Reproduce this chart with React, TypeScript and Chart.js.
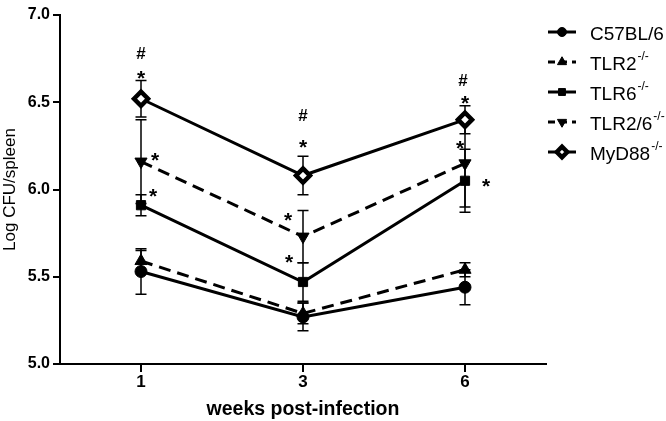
import React, { useEffect, useRef } from "react";
import { Chart, registerables } from "chart.js";
import { drawPoint } from "chart.js/helpers";

Chart.register(...registerables);

const weeks = ["1", "3", "6"];
const seriesNames = ["C57BL/6", "TLR2", "TLR6", "TLR2/6", "MyD88"];
const seriesSup = ["", "-/-", "-/-", "-/-", "-/-"];
const c57Values = [5.53, 5.27, 5.44];
const c57Err = [0.13, 0.08, 0.1];
const tlr2Values = [5.59, 5.29, 5.54];
const tlr2Err = [0.06, 0.06, 0.04];
const tlr6Values = [5.91, 5.47, 6.05];
const tlr6Err = [0.06, 0.11, 0.18];
const tlr26Values = [6.16, 5.73, 6.15];
const tlr26Err = [0.24, 0.15, 0.25];
const myd88Values = [6.52, 6.08, 6.4];
const myd88Err = [0.105, 0.11, 0.08];
const yTicks = [5.0, 5.5, 6.0, 6.5, 7.0];

// significance marks: [category index, series index, text, dx, dy]
const marks: [number, number, string, number, number][] = [
  [0, 4, "#", 0, -46],
  [0, 4, "*", 0, -24],
  [0, 3, "*", 14, -5],
  [0, 2, "*", 12, -12],
  [1, 4, "#", 0, -61],
  [1, 4, "*", 0, -32],
  [1, 3, "*", -15, -20],
  [1, 2, "*", -14, -23],
  [2, 4, "#", -2, -40],
  [2, 4, "*", 0, -20],
  [2, 3, "*", -5, -18],
  [2, 2, "*", 21, 2],
];

const FONT = "'Liberation Sans', Arial, Helvetica, sans-serif";

export default function App() {
  const ref = useRef<HTMLCanvasElement | null>(null);

  useEffect(() => {
    if (!ref.current) return;
    const errs = [c57Err, tlr2Err, tlr6Err, tlr26Err, myd88Err];

    const errorBars = {
      id: "errorBars",
      beforeDatasetsDraw(chart: any) {
        const ctx = chart.ctx;
        const ys = chart.scales.y;
        ctx.save();
        ctx.strokeStyle = "#000";
        ctx.lineWidth = 1.5;
        chart.data.datasets.forEach((ds: any, di: number) => {
          const meta = chart.getDatasetMeta(di);
          meta.data.forEach((pt: any, i: number) => {
            const v = ds.data[i];
            const e = errs[di][i];
            const top = ys.getPixelForValue(v + e);
            const bot = ys.getPixelForValue(v - e);
            const x = pt.x;
            ctx.beginPath();
            ctx.moveTo(x, top);
            ctx.lineTo(x, bot);
            ctx.moveTo(x - 5.5, top);
            ctx.lineTo(x + 5.5, top);
            ctx.moveTo(x - 5.5, bot);
            ctx.lineTo(x + 5.5, bot);
            ctx.stroke();
          });
        });
        ctx.restore();
      },
    };

    const drawCentered = (ctx: any, text: string, cx: number, cy: number) => {
      const m = ctx.measureText(text);
      const asc = m.actualBoundingBoxAscent;
      const desc = m.actualBoundingBoxDescent;
      ctx.fillText(text, cx, cy + (asc - desc) / 2);
    };

    const annotations = {
      id: "annotations",
      afterDatasetsDraw(chart: any) {
        const ctx = chart.ctx;
        ctx.save();
        ctx.fillStyle = "#000";
        ctx.textAlign = "center";
        ctx.textBaseline = "alphabetic";
        marks.forEach(([ci, si, text, dx, dy]) => {
          const pt = chart.getDatasetMeta(si).data[ci];
          ctx.font = text === "#" ? `bold 17px ${FONT}` : `bold 21px ${FONT}`;
          drawCentered(ctx, text, pt.x + dx, pt.y + dy);
        });
        ctx.restore();
      },
    };

    const customLegend = {
      id: "customLegend",
      afterDraw(chart: any) {
        const ctx = chart.ctx;
        ctx.save();
        chart.data.datasets.forEach((ds: any, di: number) => {
          const cy = 32 + di * 30;
          ctx.strokeStyle = "#000";
          ctx.lineWidth = 3;
          ctx.setLineDash(ds.borderDash && ds.borderDash.length ? [7, 5] : []);
          ctx.beginPath();
          ctx.moveTo(548, cy);
          ctx.lineTo(576, cy);
          ctx.stroke();
          ctx.setLineDash([]);
          ctx.fillStyle = ds.pointBackgroundColor;
          ctx.strokeStyle = "#000";
          ctx.lineWidth = ds.pointBorderWidth;
          drawPoint(ctx, {
            pointStyle: ds.pointStyle,
            radius: ds.pointRadius * 0.75,
            rotation: ds.pointRotation || 0,
            borderWidth: ds.pointBorderWidth,
          }, 562, cy);
          ctx.fillStyle = "#000";
          ctx.textAlign = "left";
          ctx.textBaseline = "middle";
          ctx.font = `19px ${FONT}`;
          const name = seriesNames[di];
          ctx.fillText(name, 590, cy + 3);
          const w = ctx.measureText(name).width;
          if (seriesSup[di]) {
            ctx.font = `12px ${FONT}`;
            ctx.fillText(seriesSup[di], 590 + w + 1, cy - 5);
          }
        });
        ctx.restore();
      },
    };

    const mk = (
      label: string,
      data: number[],
      style: string,
      dashed: boolean,
      radius: number,
      rotation = 0,
      bg = "#000",
      bw = 1
    ) => ({
      label,
      data,
      borderColor: "#000",
      borderWidth: 3,
      borderDash: dashed ? [12, 7] : [],
      pointStyle: style,
      pointRadius: radius,
      pointRotation: rotation,
      pointBackgroundColor: bg,
      pointBorderColor: "#000",
      pointBorderWidth: bw,
      tension: 0,
      fill: false,
    });

    const chart = new Chart(ref.current, {
      type: "line",
      data: {
        labels: weeks,
        datasets: [
          mk("C57BL/6", c57Values, "circle", false, 6),
          mk("TLR2-/-", tlr2Values, "triangle", true, 7),
          mk("TLR6-/-", tlr6Values, "rect", false, 6.5),
          mk("TLR2/6-/-", tlr26Values, "triangle", true, 7, 180),
          mk("MyD88-/-", myd88Values, "rectRot", false, 7, 0, "#fff", 4.5),
        ] as any,
      },
      options: {
        responsive: false,
        animation: false,
        events: [],
        layout: { padding: { top: 15, right: 120, left: 0, bottom: 0 } },
        plugins: {
          legend: { display: false },
          tooltip: { enabled: false },
        },
        scales: {
          x: {
            type: "category",
            offset: true,
            grid: {
              display: true,
              drawOnChartArea: false,
              drawTicks: true,
              tickLength: 8,
              color: "#000",
              lineWidth: 2,
            },
            border: { display: true, color: "#000", width: 2 },
            ticks: {
              color: "#000",
              font: { family: FONT, size: 17, weight: "bold" },
              padding: 0,
            },
            title: {
              display: true,
              text: "weeks post-infection",
              color: "#000",
              font: { family: FONT, size: 19.5, weight: "bold" },
              padding: { top: 0, bottom: 0 },
            },
            afterFit(scale: any) {
              scale.height = 57;
            },
          },
          y: {
            min: 5,
            max: 7,
            afterBuildTicks(scale: any) {
              scale.ticks = yTicks.map((v) => ({ value: v }));
            },
            grid: {
              display: true,
              drawOnChartArea: false,
              drawTicks: true,
              tickLength: 7,
              color: "#000",
              lineWidth: 2,
            },
            border: { display: true, color: "#000", width: 2 },
            ticks: {
              color: "#000",
              font: { family: FONT, size: 16, weight: "bold" },
              padding: 3,
              callback: (v: any) => Number(v).toFixed(1),
            },
            title: {
              display: true,
              text: "Log CFU/spleen",
              color: "#000",
              font: { family: FONT, size: 17 },
              padding: { top: 0, bottom: 0 },
            },
            afterFit(scale: any) {
              scale.width = 60;
            },
          },
        },
      } as any,
      plugins: [errorBars, annotations, customLegend],
    });
    return () => chart.destroy();
  }, []);

  return (
    <div style={{ position: "fixed", left: 0, top: 0, width: 666, height: 421, background: "#fff" }}>
      <canvas ref={ref} width={666} height={421} style={{ width: 666, height: 421 }} />
    </div>
  );
}
